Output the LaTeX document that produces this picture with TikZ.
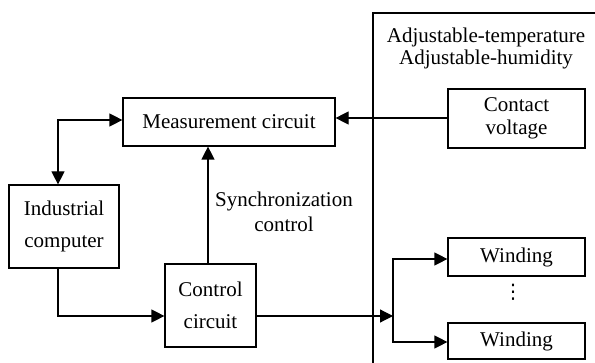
\documentclass[tikz,border=0pt]{standalone}
\usepackage{fontspec}
\setmainfont{Liberation Serif}
\newfontfamily\symfont{DejaVu Sans}
\usetikzlibrary{arrows.meta}
\begin{document}
\begin{tikzpicture}[x=1pt,y=-1pt, line width=1.2pt,
  lbl/.style={inner sep=0pt, align=center, font=\fontsize{21}{23}\selectfont},
  box/.style={draw, line width=1.2pt, inner sep=0pt, align=center, font=\fontsize{21}{23}\selectfont},
  arr/.style={-{Triangle[length=13pt,width=13pt]}},
  darr/.style={{Triangle[length=13pt,width=13pt]}-{Triangle[length=13pt,width=13pt]}}]
\useasboundingbox (0,0) rectangle (595,363);
% chamber outline
\coordinate (chbot) at (373,363);
\coordinate (chtl) at (373,13);
\coordinate (chtr) at (595,13);
\draw (chbot) -- (chtl) -- (chtr);
\node[lbl, font=\fontsize{21}{22}\selectfont] (title) at (486,48) {Adjustable-temperature\\Adjustable-humidity};
% boxes
\node[box, minimum width=212pt, minimum height=48pt] (meas) at (229,122) {Measurement circuit};
\node[box, minimum width=137pt, minimum height=59pt] (cont) at (516.5,118.5) {Contact\\voltage};
\node[box, minimum width=110pt, minimum height=83pt, font=\fontsize{21}{32}\selectfont] (ind) at (64,226.5) {Industrial\\computer};
\node[box, minimum width=91pt, minimum height=83pt, font=\fontsize{21}{32}\selectfont] (ctrl) at (210.5,305.5) {Control\\circuit};
\node[box, minimum width=137pt, minimum height=38pt] (w1) at (516.5,257) {Winding};
\node[box, minimum width=137pt, minimum height=36pt] (w2) at (516.5,341) {Winding};
\node[lbl, font=\symfont\fontsize{20}{22}\selectfont] (dots) at (513,292) {⋮};
\node[lbl, font=\fontsize{21}{25}\selectfont] (sync) at (284,212) {Synchronization\\control};
% connectors
\draw[arr] (cont.west |- 0,118) -- (meas.east |- 0,118);
\draw[darr] (ind.north -| 58,0) -- (58,120) -- (meas.west |- 0,120);
\draw[arr] (ind.south -| 58,0) -- (58,316) -- (ctrl.west |- 0,316);
\draw[arr] (ctrl.north -| 208,0) -- (meas.south -| 208,0);
\coordinate (br) at (393,316);
\draw[arr] (ctrl.east |- br) -- (br);
\draw[arr] (br) -- (393,259) -- (w1.west |- 0,259);
\draw[arr] (br) -- (393,342) -- (w2.west |- 0,342);
\end{tikzpicture}
\end{document}
